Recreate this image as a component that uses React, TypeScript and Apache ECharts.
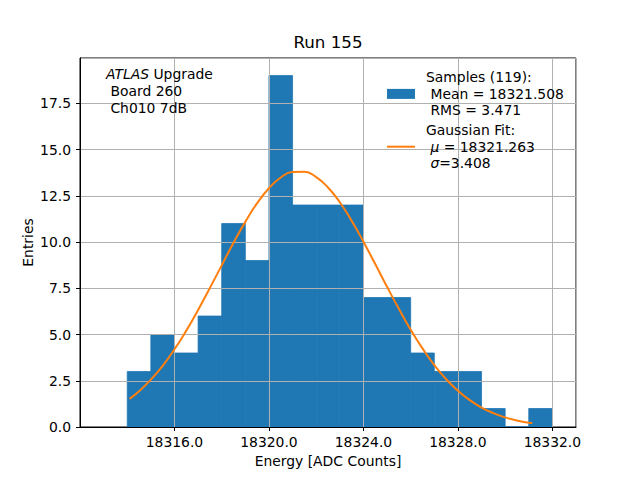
import React, { useEffect, useRef } from "react";
import * as echarts from "echarts";

// histogram bin edges and counts
const binEdges = [
  18314, 18315, 18316, 18317, 18318, 18319, 18320, 18321, 18322, 18323,
  18324, 18325, 18326, 18327, 18328, 18329, 18330, 18331, 18332,
];
const counts = [3, 5, 4, 6, 11, 9, 19, 12, 12, 12, 7, 7, 4, 3, 3, 1, 0, 1];

// gaussian fit curve
const fitX = [
  18314.1, 18314.5, 18315, 18315.5, 18316, 18316.5, 18317, 18317.5, 18318, 18318.5,
  18319, 18319.5, 18320, 18320.5, 18321, 18321.5, 18322, 18322.5, 18323, 18323.5,
  18324, 18324.5, 18325, 18325.5, 18326, 18326.5, 18327, 18327.5, 18328, 18328.5,
  18329, 18329.5, 18330, 18330.5, 18331, 18331.15,
];
const fitY = [
  1.52, 1.93, 2.56, 3.31, 4.2, 5.21, 6.33, 7.52, 8.74, 9.96,
  11.09, 12.1, 12.91, 13.49, 13.79, 13.8, 13.51, 12.95, 12.15, 11.15,
  10.02, 8.81, 7.58, 6.39, 5.26, 4.25, 3.35, 2.59, 1.96, 1.45,
  1.05, 0.75, 0.52, 0.35, 0.23, 0.21,
];

const FONT = "DejaVu Sans";
const FS = 13.9;

export default function App() {
  const chartRef = useRef<HTMLDivElement>(null);

  useEffect(() => {
    document.body.style.margin = "0";
    const chart = echarts.init(chartRef.current!, null, { renderer: "svg" });

    const bins = counts.map((c, i) => [binEdges[i], binEdges[i + 1], c]);
    const fit = fitX.map((x, i) => [x, fitY[i]]);

    chart.setOption({
      animation: false,
      textStyle: { fontFamily: FONT },
      title: {
        text: "Run 155",
        left: 328,
        top: 33,
        padding: 0,
        textAlign: "center",
        textStyle: { fontFamily: FONT, fontSize: 16.7, fontWeight: "normal", color: "#000" },
      },
      grid: {
        left: 80,
        right: 64,
        top: 58,
        bottom: 53,
        show: true,
        borderColor: "#000",
        borderWidth: 1,
        backgroundColor: "transparent",
      },
      legend: {
        left: 386,
        top: 69,
        padding: 0,
        orient: "vertical",
        itemWidth: 28,
        itemHeight: 10,
        itemGap: 3,
        data: [
          { name: "samples", icon: "rect" },
          { name: "fit", itemStyle: { opacity: 0 } },
        ],
        formatter: (name: string) =>
          name === "samples"
            ? "Samples (119):\n Mean = 18321.508\n RMS = 3.471"
            : "Gaussian Fit:\n {i|μ} = 18321.263\n {i|σ}=3.408",
        textStyle: {
          fontFamily: FONT,
          fontSize: FS,
          color: "#000",
          lineHeight: 16.6,
          padding: [0, 0, 0, 6],
          rich: {
            i: { fontStyle: "italic", fontFamily: FONT, fontSize: FS, lineHeight: 16.6, color: "#000" },
          },
        },
      },
      graphic: [
        {
          type: "text",
          left: 106,
          top: 66,
          z: 10,
          style: {
            text: "{i|ATLAS} Upgrade\n Board 260\n Ch010 7dB",
            font: `${FS}px "${FONT}"`,
            fill: "#000",
            lineHeight: 16.6,
            rich: {
              i: { fontStyle: "italic", fontFamily: FONT, fontSize: FS, lineHeight: 16.6 },
            },
          },
        },
      ],
      xAxis: {
        type: "value",
        min: 18312,
        max: 18333,
        interval: 4,
        z: 2,
        name: "Energy [ADC Counts]",
        nameLocation: "middle",
        nameGap: 27,
        nameTextStyle: { fontFamily: FONT, fontSize: FS, color: "#000" },
        axisLine: { lineStyle: { color: "#000", width: 1 } },
        axisTick: { length: 4, lineStyle: { color: "#000" } },
        axisLabel: {
          showMinLabel: false,
          showMaxLabel: false,
          margin: 8,
          fontFamily: FONT,
          fontSize: FS,
          color: "#000",
          formatter: (v: number) => v.toFixed(1),
        },
        splitLine: { show: true, lineStyle: { color: "#b0b0b0", width: 1 } },
      },
      yAxis: {
        type: "value",
        min: 0,
        max: 19.95,
        interval: 2.5,
        z: 2,
        name: "Entries",
        nameLocation: "middle",
        nameGap: 45,
        nameMoveOverlap: false,
        nameTextStyle: { fontFamily: FONT, fontSize: FS, color: "#000" },
        axisLine: { show: true, lineStyle: { color: "#000", width: 1 } },
        axisTick: { show: true, length: 4, lineStyle: { color: "#000" } },
        axisLabel: {
          showMaxLabel: false,
          margin: 9,
          fontFamily: FONT,
          fontSize: FS,
          color: "#000",
          formatter: (v: number) => v.toFixed(1),
        },
        splitLine: { show: true, lineStyle: { color: "#b0b0b0", width: 1 } },
      },
      series: [
        {
          name: "samples",
          type: "custom",
          z: 1,
          itemStyle: { color: "#1f77b4" },
          encode: { x: [0, 1], y: 2 },
          data: bins,
          renderItem: (params: any, api: any) => {
            const p0 = api.coord([api.value(0), api.value(2)]);
            const p1 = api.coord([api.value(1), 0]);
            return {
              type: "rect",
              shape: { x: p0[0], y: p0[1], width: p1[0] - p0[0], height: p1[1] - p0[1] },
              style: { fill: "#1f77b4", stroke: "#1f77b4", lineWidth: 0.8 },
            };
          },
        },
        {
          name: "fit",
          type: "line",
          z: 3,
          data: fit,
          smooth: true,
          symbol: "none",
          lineStyle: { color: "#ff7f0e", width: 2 },
          itemStyle: { color: "#ff7f0e" },
        },
      ],
    });

    return () => {
      chart.dispose();
    };
  }, []);

  return <div ref={chartRef} style={{ width: 640, height: 480 }} />;
}
